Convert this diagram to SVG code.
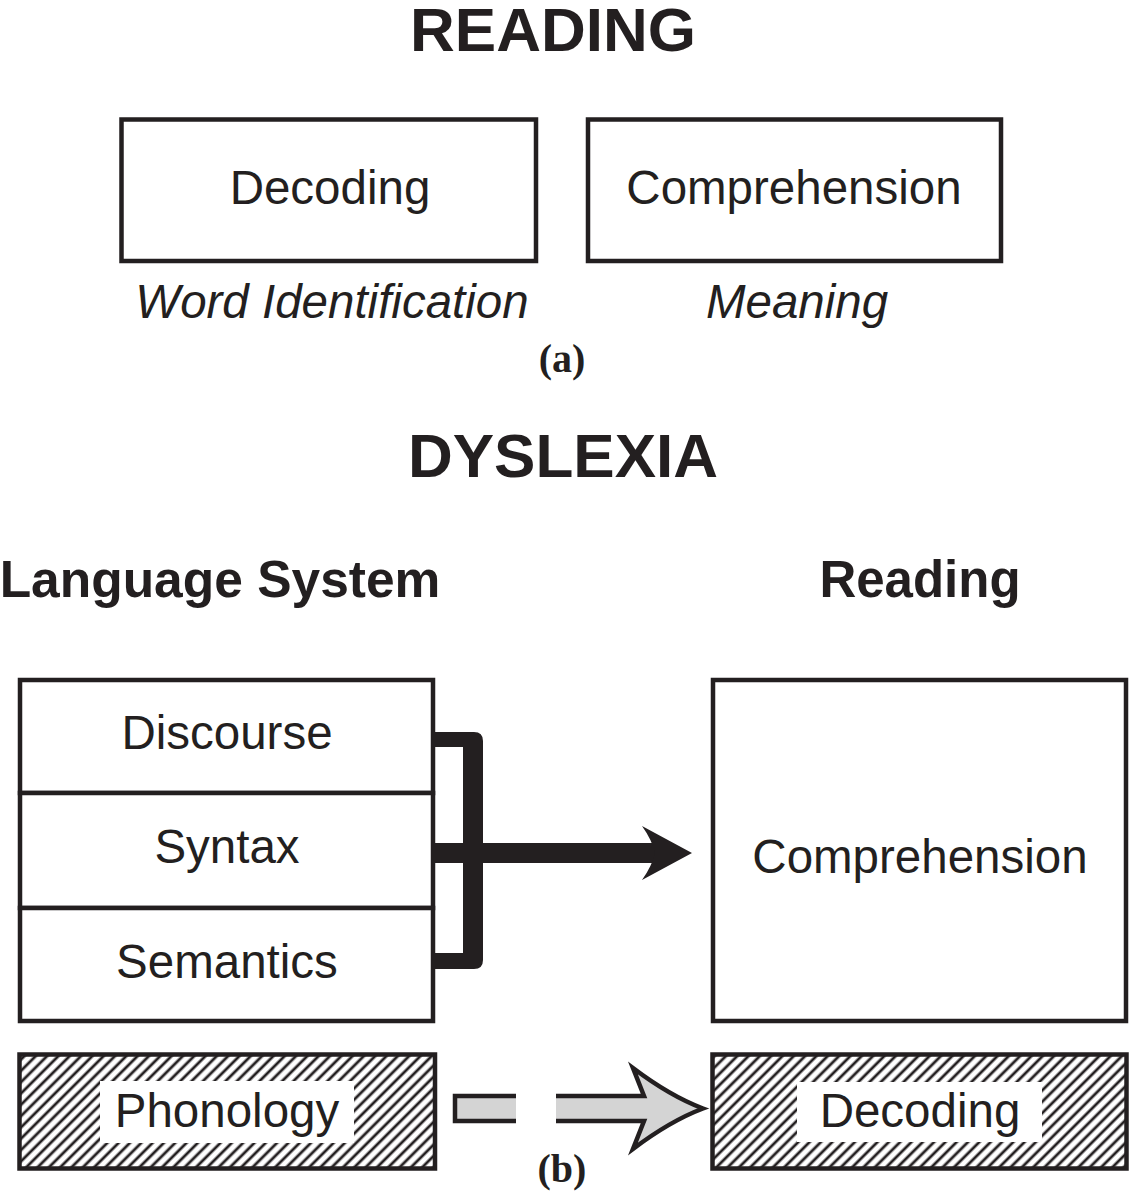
<svg xmlns="http://www.w3.org/2000/svg" width="1130" height="1192" viewBox="0 0 1130 1192">
<style>
.box{fill:#fff;stroke:#231f20;stroke-width:4.5}
.hbox{fill:url(#hatch);stroke:#231f20;stroke-width:4.5}
.t{font-family:"Liberation Sans",Arial,sans-serif;font-size:47.5px;fill:#231f20;text-anchor:middle}
.it{font-style:italic}
.h{font-family:"Liberation Sans",Arial,sans-serif;font-weight:bold;fill:#231f20;text-anchor:middle}
.lab{font-family:"Liberation Serif","Times New Roman",serif;font-weight:bold;font-size:40px;fill:#231f20;text-anchor:middle}
.gray{fill:#d4d4d4;stroke:none}
.gline{fill:none;stroke:#231f20;stroke-width:4.5;stroke-linejoin:miter}
</style>
<defs>
<pattern id="hatch" patternUnits="userSpaceOnUse" width="8" height="8" patternTransform="rotate(45)">
<rect width="8" height="8" fill="#fff"/>
<line x1="4" y1="0" x2="4" y2="8" stroke="#231f20" stroke-width="2.8"/>
</pattern>
</defs>
<g id="titles">
<text class="h" x="553" y="51" font-size="62">READING</text>
<text class="lab" x="562" y="372">(a)</text>
<text class="h" x="563" y="477" font-size="62">DYSLEXIA</text>
<text class="h" x="220" y="597" font-size="51.5">Language System</text>
<text class="h" x="920" y="597" font-size="51">Reading</text>
<text class="lab" x="562" y="1182">(b)</text>
</g>
<g id="node-decoding-top">
<rect class="box" x="121.5" y="119.5" width="414.5" height="141.5"/>
<text class="t" x="330" y="204">Decoding</text>
<text class="t it" x="332" y="318">Word Identification</text>
</g>
<g id="node-comprehension-top">
<rect class="box" x="588" y="119.5" width="413" height="141.5"/>
<text class="t" x="794" y="204">Comprehension</text>
<text class="t it" x="797" y="318">Meaning</text>
</g>
<g id="node-discourse">
<rect class="box" x="20" y="680" width="413" height="113"/>
<text class="t" x="227" y="749">Discourse</text>
</g>
<g id="node-syntax">
<rect class="box" x="20" y="793" width="413" height="115"/>
<text class="t" x="227" y="863">Syntax</text>
</g>
<g id="node-semantics">
<rect class="box" x="20" y="908" width="413" height="113"/>
<text class="t" x="227" y="978">Semantics</text>
</g>
<g id="node-comprehension">
<rect class="box" x="713" y="680" width="413" height="341"/>
<text class="t" x="920" y="873">Comprehension</text>
</g>
<g id="node-phonology">
<rect class="hbox" x="19.5" y="1054.5" width="415.5" height="114"/>
<rect x="100" y="1081" width="254" height="62" fill="#fff"/>
<text class="t" x="227" y="1127">Phonology</text>
</g>
<g id="node-decoding">
<rect class="hbox" x="712.5" y="1054.5" width="414" height="114"/>
<rect x="797" y="1082" width="245" height="60" fill="#fff"/>
<text class="t" x="920" y="1127">Decoding</text>
</g>
<g id="connectors">
<path d="M435,732 H474 Q483,732 483,741 V960 Q483,969 474,969 H435 V953 H463 V747 H435 Z" fill="#231f20"/>
<rect x="435" y="843" width="222" height="20" fill="#231f20"/>
<path d="M692,853 L642,826 Q652,840 655,853 Q652,866 642,880 Z" fill="#231f20"/>
<rect class="gray" x="455" y="1096" width="61" height="25"/>
<path class="gline" d="M516,1096 H455 V1121 H516"/>
<path class="gray" d="M556,1096 H644 L633,1068 Q670,1096 703,1108.5 Q670,1121 633,1149 L644,1121 H556 Z"/>
<path class="gline" d="M556,1096 H644 L633,1068 Q670,1096 703,1108.5 Q670,1121 633,1149 L644,1121 H556"/>
</g>
</svg>
